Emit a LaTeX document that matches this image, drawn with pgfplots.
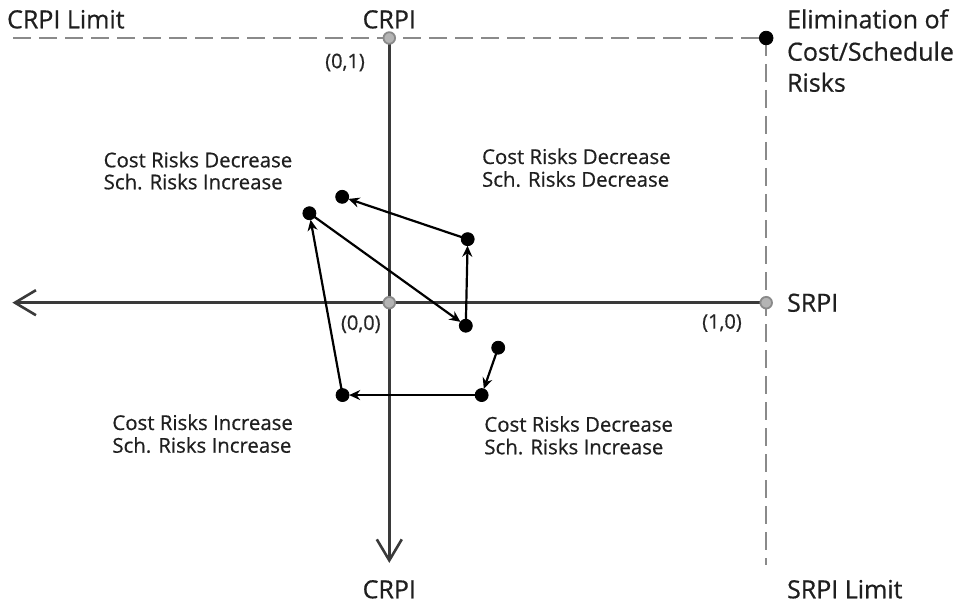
\documentclass[border=0pt]{standalone}
\usepackage{pgfplots}
\pgfplotsset{compat=1.18}
\usetikzlibrary{arrows.meta}
\usepackage{fontspec}
\setmainfont{Open Sans}[FakeBold=0.6]

\definecolor{axcol}{HTML}{3A3A3A}
\definecolor{dashcol}{HTML}{8A8A8A}
\definecolor{dotfill}{HTML}{B4B4B4}

\tikzset{
  lbl/.style={font=\fontsize{12.5}{14}\selectfont, inner sep=0pt, text=black!88},
  qlbl/.style={font=\fontsize{10.2}{12}\selectfont, inner sep=0pt, anchor=base west, text=black!88},
  clbl/.style={font=\fontsize{10}{12}\selectfont, inner sep=0pt, text=black!85},
  move/.style={black, line width=1.1pt, shorten >=3.3pt, -{Stealth[length=5.5pt,width=5pt,inset=1.8pt]}},
}

\begin{document}
\begin{tikzpicture}
\begin{axis}[
  width=480.5pt, height=304.5pt,
  scale only axis,
  xmin=-1.0329, xmax=1.5169,
  ymin=-1.1572, ymax=1.1436,
  axis lines=none, ticks=none,
  clip=false,
]
  % keep the frame
  \addplot[draw=none] coordinates {(-1.0329,-1.1572) (1.5169,1.1436)};

  % limits (dashed)
  \addplot[dashcol, line width=1pt, dash pattern=on 9pt off 4pt] coordinates {(-0.998,1) (1,1)};
  \addplot[dashcol, line width=1pt, dash pattern=on 9pt off 4pt] coordinates {(1,1) (1,-0.99)};

  % axes
  \addplot[axcol, line width=1.3pt, -{Straight Barb[length=10.5pt,width=12.5pt]}] coordinates {(1,0) (-1,0)};
  \addplot[axcol, line width=1.3pt, -{Straight Barb[length=10.5pt,width=12.5pt]}] coordinates {(0,1) (0,-0.983)};

  % path of the project
  \addplot[move] coordinates {(0.289,-0.170) (0.245,-0.349)};
  \addplot[move] coordinates {(0.245,-0.349) (-0.124,-0.349)};
  \addplot[move] coordinates {(-0.124,-0.349) (-0.212,0.338)};
  \addplot[move] coordinates {(-0.212,0.338) (0.203,-0.087)};
  \addplot[move] coordinates {(0.203,-0.087) (0.208,0.240)};
  \addplot[move] coordinates {(0.208,0.240) (-0.125,0.400)};

  \addplot[only marks, mark=*, mark size=3.25pt, black] coordinates {
    (-0.125,0.400) (-0.212,0.338) (0.208,0.240) (0.203,-0.087)
    (0.289,-0.170) (0.245,-0.349) (-0.124,-0.349)
  };

  % reference points
  \addplot[only marks, mark=*, mark size=2.9pt, mark options={fill=dotfill, draw=dashcol, line width=0.9pt}] coordinates {(0,1) (0,0) (1,0)};
  \addplot[only marks, mark=*, mark size=3.4pt, black] coordinates {(1,1)};

  % labels
  \node[lbl, anchor=base west] at (axis cs:-1.015,1.0366) {CRPI Limit};
  \node[lbl, anchor=base] at (axis cs:0,1.0366) {CRPI};
  \node[lbl, anchor=base west] at (axis cs:1.0544,1.0366) {Elimination of};
  \node[lbl, anchor=base west] at (axis cs:1.0544,0.9143) {Cost/Schedule};
  \node[lbl, anchor=base west] at (axis cs:1.0544,0.7972) {Risks};
  \node[lbl, anchor=base west] at (axis cs:1.0544,-0.034) {SRPI};
  \node[lbl, anchor=base] at (axis cs:0,-1.1167) {CRPI};
  \node[lbl, anchor=base west] at (axis cs:1.0544,-1.1167) {SRPI Limit};

  \node[clbl] at (axis cs:-0.1175,0.9075) {(0,1)};
  \node[clbl] at (axis cs:-0.0756,-0.0812) {(0,0)};
  \node[clbl] at (axis cs:0.8827,-0.0767) {(1,0)};

  \node[qlbl] at (axis cs:-0.7588,0.5115) {Cost Risks Decrease};
  \node[qlbl] at (axis cs:-0.7588,0.4284) {Sch. Risks Increase};
  \node[qlbl] at (axis cs:0.2452,0.5240) {Cost Risks Decrease};
  \node[qlbl] at (axis cs:0.2452,0.4382) {Sch. Risks Decrease};
  \node[qlbl] at (axis cs:-0.7357,-0.4809) {Cost Risks Increase};
  \node[qlbl] at (axis cs:-0.7357,-0.5667) {Sch. Risks Increase};
  \node[qlbl] at (axis cs:0.2513,-0.4873) {Cost Risks Decrease};
  \node[qlbl] at (axis cs:0.2513,-0.5727) {Sch. Risks Increase};
\end{axis}
\pgfresetboundingbox
\useasboundingbox (current axis.south west) rectangle (current axis.north east);
\end{tikzpicture}
\end{document}
